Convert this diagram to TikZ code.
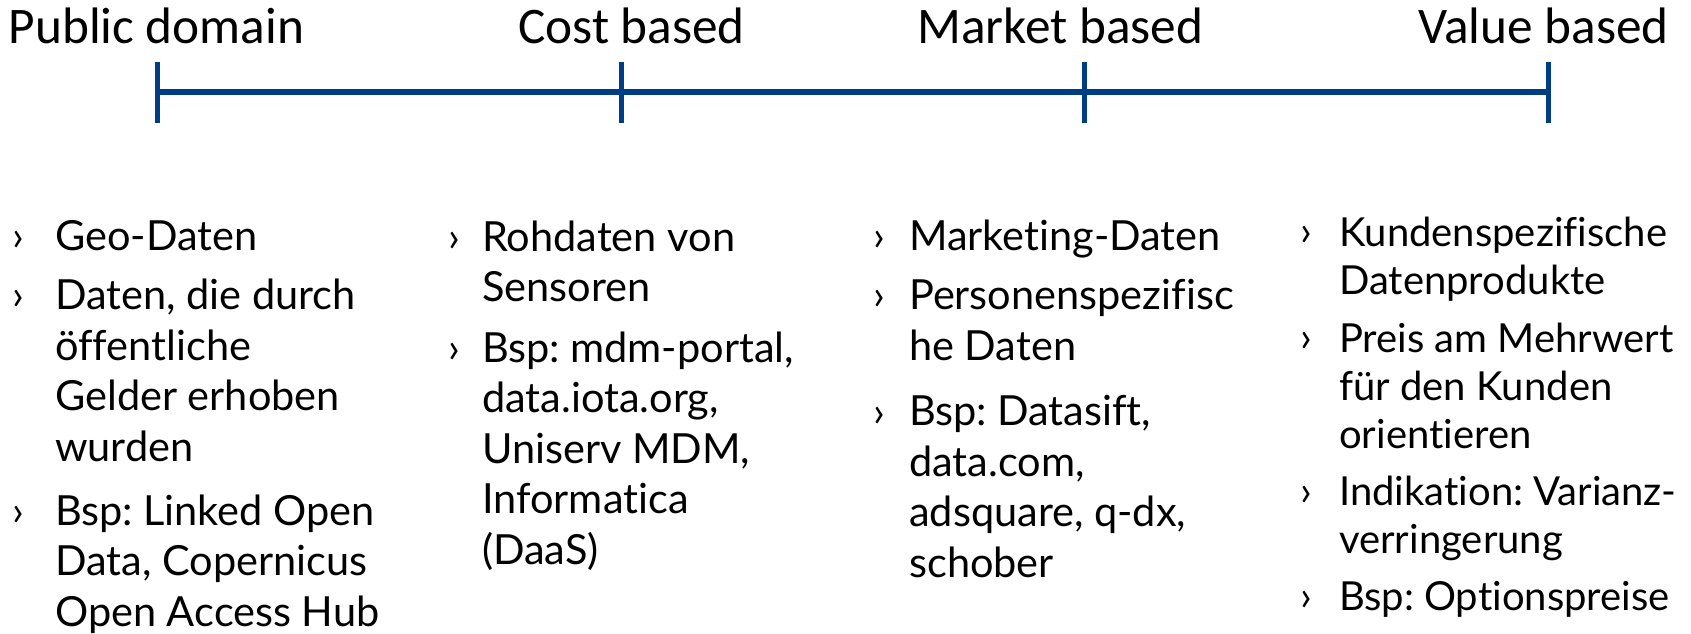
\documentclass[tikz,border=0pt]{standalone}
\usepackage{fontspec}
\setmainfont{Lato}[Ligatures=NoCommon]
\newfontfamily\headfont{Carlito}
\frenchspacing
\definecolor{scaleblue}{RGB}{0,61,133}
\tikzset{
  head/.style={anchor=base west, inner sep=0pt, font=\headfont\fontsize{51.3}{60}\selectfont},
  scale line/.style={draw=scaleblue, line width=5.5pt},
  tick/.style={draw=scaleblue, line width=5pt},
  entry/.style={anchor=base west, inner sep=0pt, align=left, font=\fontsize{41.5}{50.5}\selectfont},
  small entry/.style={entry, font=\fontsize{40}{48}\selectfont},
  bullet/.style={anchor=base west, inner sep=0pt, font=\fontsize{41.5}{50.5}\selectfont},
}
\begin{document}
\begin{tikzpicture}[x=1pt,y=-1pt]
\useasboundingbox (0,0) rectangle (1691,633);

% the scale
\coordinate (t1) at (157.5,92);
\coordinate (t2) at (621,92);
\coordinate (t3) at (1084,92);
\coordinate (t4) at (1548,92);
\draw[scale line] (t1) -- (t4);
\foreach \t in {t1,t2,t3,t4}
  \draw[tick] ([yshift=30.5pt]\t) -- ([yshift=-30.5pt]\t);

% headings
\node[head] (pd) at (8.6,43) {Public domain};
\node[head] (cb) at (518,43) {Cost based};
\node[head] (mb) at (917,43) {Market based};
\node[head, anchor=base east] (vb) at (1669,43) {Value based};

% public domain (base = last line)
\node[entry] (pd1) at (55,250) {Geo-Daten};
\node[entry] (pd2) at (55,461) {Daten, die durch\\öffentliche\\Gelder erhoben\\wurden};
\node[entry] (pd3) at (55,626) {Bsp: Linked Open\\Data, Copernicus\\Open Access Hub};

% cost based
\node[entry] (cb1) at (482,301.5) {Rohdaten von\\Sensoren};
\node[entry] (cb2) at (482,564) {Bsp: mdm-portal,\\data.iota.org,\\Uniserv MDM,\\Informatica\\(DaaS)};

% market based
\node[entry] (mb1) at (909,250) {Marketing-Daten};
\node[entry] (mb2) at (909,360) {Personenspezifisc\\he Daten};
\node[entry] (mb3) at (909,577) {Bsp: Datasift,\\data.com,\\adsquare, q-dx,\\schober};

% value based
\node[small entry] (vb1) at (1339,294) {Kundenspezifische\\Datenprodukte};
\node[small entry] (vb2) at (1339,448) {Preis am Mehrwert\\für den Kunden\\orientieren};
\node[small entry] (vb3) at (1339,553) {Indikation: Varianz-\\verringerung};
\node[small entry] (vb4) at (1339,610) {Bsp: Optionspreise};

% bullets
\foreach \n/\x/\y in {pd1/12/250, pd2/12/309.5, pd3/12/525,
                      cb1/448/251, cb2/448/362,
                      mb1/873/250, mb2/873/309.5, mb3/873/426,
                      vb1/1300/245, vb2/1300/351.5, vb3/1300/505, vb4/1300/610}
  \node[bullet] (b\n) at (\x,\y) {›};
\end{tikzpicture}
\end{document}
